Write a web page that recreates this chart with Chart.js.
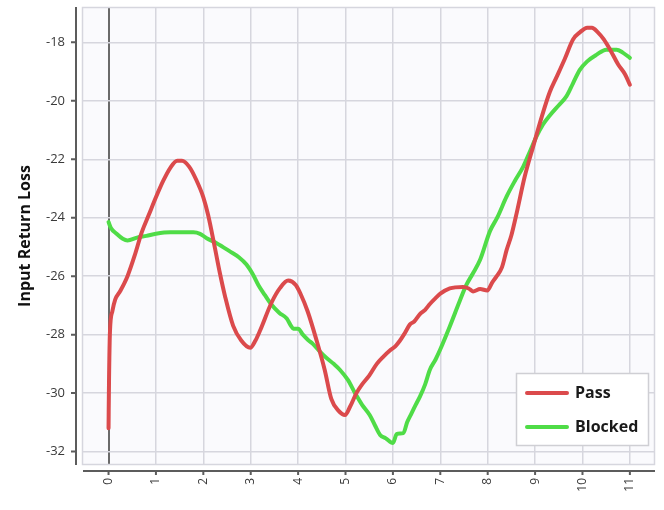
<!DOCTYPE html>
<html>
<head>
<meta charset="utf-8">
<script src="https://cdn.jsdelivr.net/npm/chart.js@4.4.1/dist/chart.umd.min.js"></script>
<style>
  html, body { margin: 0; padding: 0; background: #ffffff; }
  #wrap { width: 664px; height: 510px; }
</style>
</head>
<body>
<div id="wrap"><canvas id="c" width="664" height="510"></canvas></div>
<script>
// Return loss curves: frequency step (x) and loss in dB (y)
const seriesNames = ['Pass', 'Blocked'];
const seriesColors = ['#db4a4c', '#4fdc47'];

const passX = [0, 0.01, 0.03, 0.08, 0.14, 0.25, 0.4, 0.55, 0.7, 0.85, 1.0, 1.15, 1.3, 1.45, 1.55, 1.7, 1.85, 2.0, 2.1, 2.24,
  2.35, 2.46, 2.63, 2.8, 2.99, 3.1, 3.2, 3.44, 3.62, 3.79, 3.95, 4.05, 4.2, 4.39, 4.56, 4.7, 4.85, 4.99, 5.1, 5.23,
  5.35, 5.5, 5.66, 5.8, 5.93, 6.05, 6.15, 6.25, 6.36, 6.45, 6.57, 6.68, 6.78, 6.9, 7.0, 7.2, 7.48, 7.6, 7.69, 7.84,
  7.99, 8.1, 8.19, 8.3, 8.4, 8.5, 8.61, 8.78, 8.96, 9.14, 9.31, 9.45, 9.63, 9.8, 9.95, 10.1, 10.2, 10.32, 10.45, 10.6,
  10.75, 10.9, 11.0];
const passY = [-31.2, -29.6, -27.9, -27.2, -26.8, -26.5, -26.0, -25.3, -24.5, -23.9, -23.3, -22.75, -22.3, -22.05, -22.05, -22.25, -22.7, -23.3, -23.9, -25.0,
  -25.9, -26.7, -27.7, -28.2, -28.45, -28.2, -27.85, -26.9, -26.4, -26.15, -26.3, -26.6, -27.2, -28.2, -29.2, -30.2, -30.6, -30.75, -30.45, -30.0,
  -29.7, -29.4, -29.0, -28.75, -28.55, -28.4, -28.2, -27.95, -27.65, -27.55, -27.3, -27.15, -26.95, -26.75, -26.6, -26.42, -26.37, -26.42, -26.52, -26.44,
  -26.49, -26.2, -26.0, -25.7, -25.1, -24.6, -23.85, -22.6, -21.56, -20.55, -19.7, -19.2, -18.55, -17.9, -17.65, -17.5, -17.5, -17.65, -17.9, -18.3,
  -18.75, -19.1, -19.45];

const blockedX = [0, 0.05, 0.17, 0.3, 0.4, 0.6, 0.8, 1.0, 1.3, 1.6, 1.79, 1.93, 2.07, 2.28, 2.56, 2.75, 2.91, 3.05, 3.16, 3.3,
  3.44, 3.6, 3.76, 3.85, 3.9, 4.0, 4.1, 4.21, 4.3, 4.46, 4.6, 4.75, 4.88, 5.05, 5.2, 5.35, 5.51, 5.62, 5.73, 5.85,
  6.0, 6.08, 6.15, 6.22, 6.3, 6.39, 6.48, 6.57, 6.68, 6.78, 6.9, 7.0, 7.2, 7.41, 7.55, 7.69, 7.84, 8.05, 8.2, 8.4,
  8.57, 8.75, 8.9, 9.03, 9.17, 9.31, 9.5, 9.66, 9.8, 9.94, 10.1, 10.3, 10.5, 10.72, 10.85, 11.0];
const blockedY = [-24.15, -24.35, -24.55, -24.72, -24.78, -24.68, -24.62, -24.55, -24.5, -24.5, -24.5, -24.55, -24.7, -24.87, -25.15, -25.35, -25.6, -25.95, -26.3, -26.65,
  -26.98, -27.25, -27.45, -27.7, -27.8, -27.8, -28.0, -28.18, -28.3, -28.58, -28.8, -29.0, -29.2, -29.55, -30.0, -30.4, -30.75, -31.1, -31.43, -31.55,
  -31.71, -31.4, -31.38, -31.37, -31.0, -30.7, -30.4, -30.12, -29.7, -29.2, -28.85, -28.5, -27.72, -26.85, -26.3, -25.9, -25.44, -24.45, -24.0, -23.27,
  -22.75, -22.25, -21.7, -21.22, -20.8, -20.5, -20.15, -19.85, -19.4, -18.95, -18.65, -18.42, -18.25, -18.25, -18.35, -18.53];

const xTickValues = [0, 1, 2, 3, 4, 5, 6, 7, 8, 9, 10, 11];
const yTickValues = [-32, -30, -28, -26, -24, -22, -20, -18];
const yAxisTitle = 'Input Return Loss';

const toPoints = (xs, ys) => xs.map((x, i) => ({ x: x, y: ys[i] }));

const FONT = '"Open Sans", "DejaVu Sans", sans-serif';
const GRID = '#d6d6de';

// Plot background and frame
const plotFrame = {
  id: 'plotFrame',
  beforeDraw(chart) {
    const { ctx, chartArea: a } = chart;
    ctx.save();
    ctx.fillStyle = '#fafafd';
    ctx.fillRect(a.left, a.top, a.right - a.left, a.bottom - a.top);
    ctx.restore();
  },
  afterDatasetsDraw(chart) {
    const { ctx, chartArea: a, scales } = chart;
    ctx.save();
    ctx.strokeStyle = GRID;
    ctx.lineWidth = 1.5;
    ctx.strokeRect(a.left + 0.5, a.top + 0.5, a.right - a.left - 1, a.bottom - a.top - 1);

    // axis lines set slightly apart from the plot
    ctx.strokeStyle = '#5c5c5c';
    ctx.lineWidth = 2;
    const ax = a.left - 6;
    ctx.beginPath();
    ctx.moveTo(ax, a.top);
    ctx.lineTo(ax, a.bottom);
    scales.y.ticks.forEach(t => {
      const py = scales.y.getPixelForValue(t.value);
      ctx.moveTo(ax - 5, py);
      ctx.lineTo(ax - 1, py);
    });
    const ay = a.bottom + 6;
    ctx.moveTo(a.left + 1, ay);
    ctx.lineTo(a.right, ay);
    scales.x.ticks.forEach(t => {
      const px = scales.x.getPixelForValue(t.value);
      ctx.moveTo(px, ay);
      ctx.lineTo(px, ay + 4);
    });
    ctx.stroke();
    ctx.restore();
  }
};

// Legend box inside the lower right of the plot
const boxLegend = {
  id: 'boxLegend',
  afterDraw(chart) {
    const { ctx, chartArea: a } = chart;
    const w = 133, h = 73;
    const x = a.right - 6 - w, y = a.bottom - 19 - h;
    ctx.save();
    ctx.fillStyle = '#ffffff';
    ctx.fillRect(x, y, w, h);
    ctx.strokeStyle = '#cfcfd4';
    ctx.lineWidth = 1.5;
    ctx.strokeRect(x + 0.5, y + 0.5, w - 1, h - 1);
    chart.data.datasets.forEach((ds, i) => {
      const ly = y + 20 + i * 34;
      ctx.strokeStyle = ds.borderColor;
      ctx.lineWidth = 4;
      ctx.lineCap = 'round';
      ctx.beginPath();
      ctx.moveTo(x + 11, ly);
      ctx.lineTo(x + 51, ly);
      ctx.stroke();
      ctx.fillStyle = '#1a1a1a';
      ctx.font = 'bold 16px ' + FONT;
      ctx.textBaseline = 'middle';
      ctx.textAlign = 'left';
      ctx.fillText(ds.label, x + 59, ly);
    });
    ctx.restore();
  }
};

new Chart(document.getElementById('c'), {
  type: 'line',
  data: {
    datasets: [
      { label: seriesNames[0], data: toPoints(passX, passY), borderColor: seriesColors[0] },
      { label: seriesNames[1], data: toPoints(blockedX, blockedY), borderColor: seriesColors[1] }
    ].map(d => Object.assign(d, {
      borderWidth: 4,
      pointRadius: 0,
      fill: false,
      cubicInterpolationMode: 'monotone',
      borderJoinStyle: 'round',
      borderCapStyle: 'round'
    }))
  },
  options: {
    responsive: false,
    animation: false,
    layout: { padding: { top: 7, right: 9, left: 0, bottom: 0 } },
    plugins: { legend: { display: false }, tooltip: { enabled: false } },
    scales: {
      x: {
        type: 'linear',
        min: -0.56,
        max: 11.53,
        afterFit(s) { s.height = 45; s.paddingLeft = 0; s.paddingRight = 0; },
        afterBuildTicks(s) { s.ticks = xTickValues.map(v => ({ value: v })); },
        border: { display: false },
        grid: {
          drawTicks: false,
          color: c => (c.tick && c.tick.value === 0 ? '#6a6a6a' : GRID),
          lineWidth: c => (c.tick && c.tick.value === 0 ? 2 : 1.5)
        },
        ticks: {
          minRotation: 90,
          maxRotation: 90,
          padding: 13,
          color: '#3a3a3a',
          font: { family: FONT, size: 12 },
          callback: v => String(v)
        }
      },
      y: {
        min: -32.46,
        max: -16.79,
        afterFit(s) { s.width = 82; s.paddingTop = 0; s.paddingBottom = 0; },
        afterBuildTicks(s) { s.ticks = yTickValues.map(v => ({ value: v })); },
        border: { display: false },
        grid: { drawTicks: false, color: GRID, lineWidth: 1.5 },
        ticks: {
          padding: 17,
          color: '#3a3a3a',
          font: { family: FONT, size: 13 },
          callback: v => String(v)
        },
        title: {
          display: true,
          text: yAxisTitle,
          color: '#111111',
          font: { family: FONT, size: 16, weight: 'bold' },
          padding: { top: 16, bottom: 0 }
        }
      }
    }
  },
  plugins: [plotFrame, boxLegend]
});
</script>
</body>
</html>
